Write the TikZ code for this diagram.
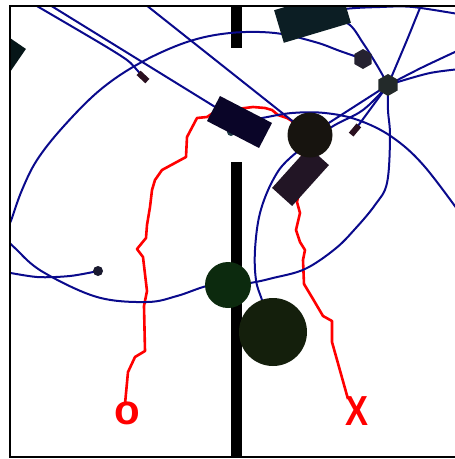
\documentclass[tikz,border=0pt]{standalone}
\usepackage{fontspec}
\newfontfamily\markfont{Liberation Sans}
\usetikzlibrary{shapes.geometric}

\definecolor{treeblue}{RGB}{10,10,140}
\definecolor{cornerteal}{RGB}{6,22,24}
\definecolor{boxteal}{RGB}{12,30,36}
\definecolor{robotnavy}{RGB}{10,5,40}
\definecolor{balldark}{RGB}{23,20,15}
\definecolor{slabplum}{RGB}{34,21,37}
\definecolor{hexplum}{RGB}{37,34,48}
\definecolor{hubgrey}{RGB}{35,42,42}
\definecolor{greendisc}{RGB}{12,42,14}
\definecolor{mossdisc}{RGB}{20,31,12}
\definecolor{tagred}{RGB}{42,16,32}
\definecolor{dotnavy}{RGB}{26,26,48}
\definecolor{blobteal}{RGB}{30,60,70}

\begin{document}
\begin{tikzpicture}[
  x=1pt, y=-1pt,
  tree/.style={treeblue, line width=2pt},
  route/.style={red, line width=2.6pt, line join=round},
  disc/.style={circle, inner sep=0pt},
  hexa/.style={regular polygon, regular polygon sides=6, shape border rotate=30, inner sep=0pt},
  slab/.style={rectangle, inner sep=0pt},
  marker/.style={red, inner sep=0pt, font=\markfont\bfseries\fontsize{42}{42}\selectfont}
]
\useasboundingbox (0,0) rectangle (455,459);

\coordinate (hub) at (388,85);
\coordinate (hexs) at (363,59);
\coordinate (ball) at (310,135);
\coordinate (green) at (228,285);
\coordinate (moss) at (273,332);
\coordinate (robot) at (239.5,122);
\coordinate (topbox) at (312.5,16.5);
\coordinate (lowbox) at (300.5,176.5);
\coordinate (corner) at (-1.9,54.1);
\coordinate (tagL) at (143,77);
\coordinate (tagR) at (355,130);
\coordinate (dot) at (98,271);
\coordinate (start) at (127,413);
\coordinate (goal) at (357,411);

\begin{scope}
\clip (10,6) rectangle (455,457);
\fill (231,0) rectangle (242,48);
\fill (231,162) rectangle (242,460);

\draw[route] plot coordinates {(125,404) (128,372) (135,357) (145,351) (144,306) (147,291)
  (143,257) (137,249) (146,238) (147,225) (150,207) (152,190) (155,180) (162,170) (186,157)
  (187,137) (197,118) (207,117) (213,113) (230,110) (245,108) (253,107) (265,108) (272,110)
  (278,115) (287,118) (292,121) (305,165) (297,202) (300,213) (296,230) (300,242) (305,250)
  (303,260) (304,284) (313,299) (323,316) (332,321) (332,342) (348,399)};

\draw[tree] plot[smooth, tension=0.6] coordinates {(green) (207,286) (177,296) (147,302) (97,297)
  (43,272) (17,250) (6,236) (12,218) (22,190) (37,160) (63,127) (100,90) (140,63) (187,42)
  (230,33) (275,33) (315,42) (340,51) (hexs)};
\draw[tree] plot[smooth] coordinates {(0,271) (37,277) (70,276) (dot)};
\draw[tree] plot[smooth] coordinates {(30,2) (100,43) (127,60) (137,70) (tagL)};
\draw[tree] (45,2) -- (robot);
\draw[tree] (141,1) -- (ball);
\draw[tree] plot[smooth] coordinates {(topbox) (345,9) (380,7) (413,7) (470,16)};
\draw[tree] plot[smooth] coordinates {(424,0) (420,8) (407,40) (hub)};
\draw[tree] plot[smooth] coordinates {(topbox) (347,23) (363,43) (378,67) (hub)};
\draw[tree] plot[smooth] coordinates {(hub) (423,67) (470,45)};
\draw[tree] plot[smooth] coordinates {(hub) (430,73) (470,68)};
\draw[tree] plot[smooth, tension=0.6] coordinates {(hub) (388,110) (390,137) (387,183) (375,205)
  (355,229) (335,249) (305,269) (273,278) (250,283) (green)};
\draw[tree] (hub) -- (tagR);
\draw[tree] (hub) -- (ball);
\draw[tree] plot[smooth, tension=0.6] coordinates {(moss) (262,300) (256,280) (255,250) (260,213)
  (273,180) (290,158) (330,128) (363,110) (hub)};
\draw[tree] plot[smooth, tension=0.6] coordinates {(robot) (262,118) (292,113) (325,113) (358,120)
  (392,137) (425,167) (470,227)};

\node[slab, fill=cornerteal, minimum width=40pt, minimum height=40pt, rotate=-34.5] (cornerbox) at (corner) {};
\node[slab, fill=boxteal, minimum width=70pt, minimum height=34pt, rotate=16.6] (topboxn) at (topbox) {};
\node[disc, fill=blobteal, minimum size=8pt] (blob) at (231,132) {};
\node[slab, fill=robotnavy, minimum width=58.6pt, minimum height=28.2pt, rotate=-27.4] (robotn) at (robot) {};
\node[slab, fill=slabplum, minimum width=55pt, minimum height=27pt, rotate=48] (lowboxn) at (lowbox) {};
\node[disc, fill=balldark, minimum size=45pt] (balln) at (ball) {};
\node[hexa, fill=hexplum, minimum size=20pt] (hexsn) at (hexs) {};
\node[hexa, fill=hubgrey, minimum size=22pt] (hubn) at (hub) {};
\node[slab, fill=tagred, minimum width=12pt, minimum height=6pt, rotate=-43] (tagLn) at (tagL) {};
\node[slab, fill=tagred, minimum width=12pt, minimum height=6pt, rotate=50] (tagRn) at (tagR) {};
\node[disc, fill=dotnavy, minimum size=10pt] (dotn) at (dot) {};
\node[disc, fill=greendisc, minimum size=46pt] (greenn) at (green) {};
\node[disc, fill=mossdisc, minimum size=68pt] (mossn) at (moss) {};
\end{scope}

\draw[line width=2pt] (470,6) -- (10,6) -- (10,457) -- (470,457);

\node[marker] (startmark) at (start) {o};
\node[marker] (goalmark) at (goal) {\scalebox{0.82}[1]{X}};
\end{tikzpicture}
\end{document}
